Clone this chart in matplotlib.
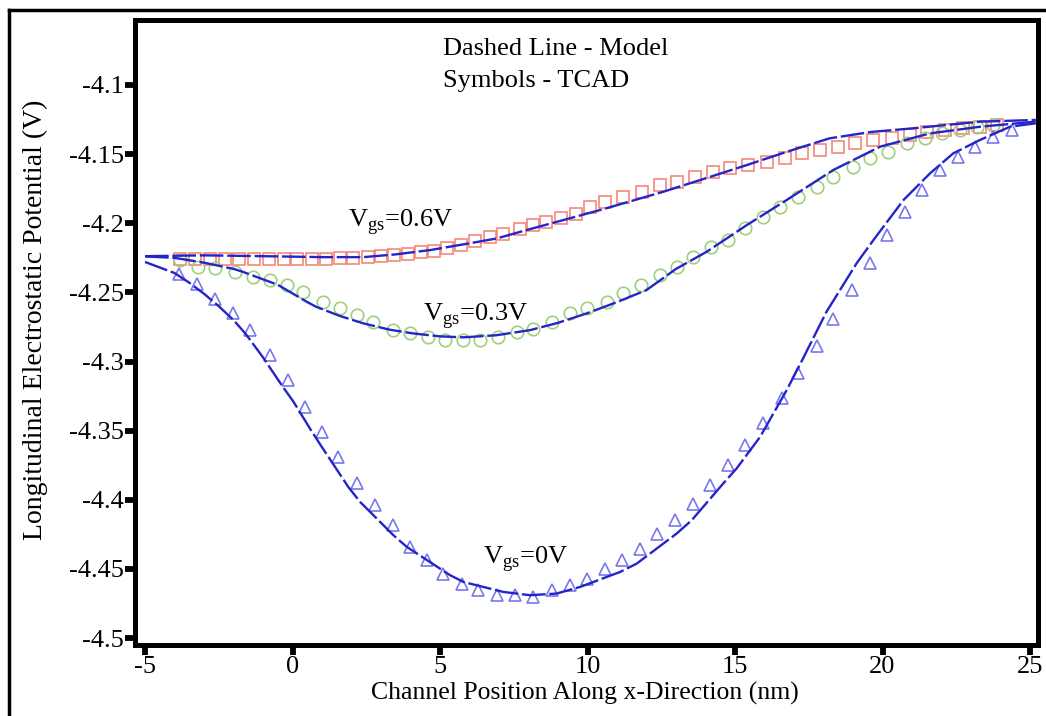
import matplotlib
matplotlib.use("Agg")
import matplotlib.pyplot as plt
from matplotlib.lines import Line2D

plt.rcParams['font.family'] = ['Liberation Serif', 'DejaVu Serif']
plt.rcParams['mathtext.fontset'] = 'custom'
plt.rcParams['mathtext.rm'] = 'Liberation Serif'
plt.rcParams['axes.unicode_minus'] = False

# TCAD symbols
sq_x = [-3.8, -3.3, -2.8, -2.3, -1.8, -1.3, -0.8, -0.3, 0.15, 0.65, 1.15, 1.6, 2.05, 2.55,
        3.0, 3.45, 3.9, 4.35, 4.8, 5.25, 5.7, 6.2, 6.7, 7.15, 7.7, 8.15, 8.6, 9.1, 9.6, 10.1,
        10.6, 11.2, 11.84, 12.46, 13.02, 13.64, 14.26, 14.83, 15.45, 16.07, 16.7, 17.26,
        17.88, 18.5, 19.07, 19.69, 20.31, 20.93, 21.5, 22.12, 22.74, 23.3, 23.87]
sq_y = [-4.2262, -4.2262, -4.2262, -4.2260, -4.2260, -4.2258, -4.2258, -4.2256, -4.2256,
        -4.2255, -4.2255, -4.2252, -4.2250, -4.2245, -4.2238, -4.2230, -4.2220, -4.2210,
        -4.2198, -4.2182, -4.2160, -4.2130, -4.2100, -4.2075, -4.2045, -4.2015, -4.1990,
        -4.1962, -4.1930, -4.1885, -4.1845, -4.1808, -4.1772, -4.1724, -4.1700, -4.1663,
        -4.1627, -4.1603, -4.1579, -4.1555, -4.1530, -4.1494, -4.1470, -4.1446, -4.1422,
        -4.1398, -4.1386, -4.1362, -4.1338, -4.1326, -4.1313, -4.1302, -4.1290]

ci_x = [-3.81, -3.19, -2.63, -1.95, -1.33, -0.76, -0.2, 0.37, 1.04, 1.61, 2.18, 2.74, 3.42,
        3.98, 4.6, 5.17, 5.79, 6.36, 6.98, 7.6, 8.16, 8.79, 9.4, 9.97, 10.65, 11.2, 11.8,
        12.46, 13.02, 13.59, 14.2, 14.77, 15.34, 15.96, 16.53, 17.15, 17.77, 18.33, 19.0,
        19.58, 20.2, 20.82, 21.44, 22.0, 22.63, 23.19, 23.76]
ci_y = [-4.2266, -4.2315, -4.2327, -4.2351, -4.2387, -4.2411, -4.2447, -4.2496, -4.2568,
        -4.2616, -4.2664, -4.2713, -4.2773, -4.2797, -4.2821, -4.2845, -4.2845, -4.2845,
        -4.2821, -4.2785, -4.2765, -4.2713, -4.2652, -4.2610, -4.2568, -4.2507, -4.2447,
        -4.2375, -4.2315, -4.2242, -4.2170, -4.2122, -4.2037, -4.1953, -4.1880, -4.1808,
        -4.1740, -4.1663, -4.1591, -4.1530, -4.1482, -4.1422, -4.1386, -4.1350, -4.1326,
        -4.1302, -4.1290]

tr_x = [-3.85, -3.25, -2.63, -2.03, -1.44, -0.76, -0.14, 0.42, 0.99, 1.55, 2.18, 2.80, 3.42,
        3.98, 4.55, 5.11, 5.74, 6.30, 6.92, 7.54, 8.16, 8.79, 9.41, 9.97, 10.59, 11.16,
        11.78, 12.35, 12.97, 13.59, 14.15, 14.77, 15.34, 15.96, 16.58, 17.15, 17.77, 18.33,
        18.95, 19.58, 20.14, 20.76, 21.33, 21.95, 22.57, 23.14, 23.76, 24.38]
tr_y = [-4.2370, -4.2440, -4.2550, -4.2650, -4.2773, -4.2950, -4.3135, -4.3328, -4.3509,
        -4.3690, -4.3882, -4.4039, -4.4184, -4.4341, -4.4437, -4.4533, -4.4606, -4.4654,
        -4.4690, -4.4690, -4.4703, -4.4654, -4.4618, -4.4570, -4.4497, -4.4437, -4.4353,
        -4.4244, -4.4148, -4.4027, -4.3894, -4.3750, -4.3605, -4.3448, -4.3267, -4.3086,
        -4.2888, -4.2689, -4.2483, -4.2290, -4.2085, -4.1917, -4.1760, -4.1615, -4.1519,
        -4.1446, -4.1374, -4.1326]

# model (dashed lines)
m06_x = [-5, -3, -1, 1, 2.4, 3.5, 4.66, 6.0, 6.92, 8.0, 9.18, 10.5, 12.57, 14.0, 15.4,
         16.8, 18.2, 19.6, 21.05, 23.3, 25.2]
m06_y = [-4.2238, -4.2232, -4.2238, -4.2245, -4.2245, -4.2225, -4.2194, -4.2145, -4.2110,
         -4.2045, -4.1977, -4.1900, -4.1772, -4.1675, -4.1579, -4.1480, -4.1386, -4.1340,
         -4.1313, -4.1265, -4.1253]

m03_x = [-5, -4, -3, -2, -1.7, -0.5, 0.5, 0.8, 1.6, 2.4, 3.3, 4.1, 5.0, 5.8, 6.9, 8.05,
         9.0, 9.97, 11.0, 12.0, 13.0, 14.04, 15.4, 16.75, 18.33, 19.92, 21.61, 23.3, 25.2]
m03_y = [-4.2240, -4.2250, -4.2285, -4.2330, -4.2350, -4.2445, -4.2570, -4.2604, -4.2670,
         -4.2724, -4.2770, -4.2797, -4.2818, -4.2825, -4.2810, -4.2773, -4.2720, -4.2652,
         -4.2570, -4.2483, -4.2330, -4.2206, -4.2013, -4.1832, -4.1615, -4.1446, -4.1350,
         -4.1302, -4.1265]

m0_x = [-5, -4.5, -4, -3.5, -3, -2.5, -2, -1.6, -1.0, -0.37, 0.03, 0.65, 1.0, 1.89, 2.29,
        3.42, 3.87, 5.34, 5.79, 7.14, 8.05, 8.95, 9.75, 11.1, 11.67, 13.02, 13.53, 14.6,
        15.05, 15.85, 16.75, 17.3, 18.1, 19.12, 19.69, 20.71, 21.61, 22.4, 23.3, 24.32, 25.2]
m0_y = [-4.2280, -4.2320, -4.2360, -4.2430, -4.2510, -4.2600, -4.2700, -4.2797, -4.2970,
        -4.3170, -4.3290, -4.3505, -4.3620, -4.3907, -4.4015, -4.4256, -4.4340, -4.4545,
        -4.4594, -4.4666, -4.4690, -4.4678, -4.4630, -4.4522, -4.4461, -4.4244, -4.4148,
        -4.3882, -4.3774, -4.3545, -4.3207, -4.2980, -4.2640, -4.2290, -4.2122, -4.1832,
        -4.1639, -4.1494, -4.1398, -4.1302, -4.1277]

fig = plt.figure(figsize=(10.46, 7.16), dpi=100)
ax = fig.add_axes([135 / 1046, 1 - 645 / 716, (1038 - 135) / 1046, (645 - 20) / 716])

line_c = '#2424c8'
dash_kw = dict(color=line_c, lw=1.7, dashes=(10, 1.6))
ax.plot(m06_x, m06_y, **dash_kw, zorder=3)
ax.plot(m03_x, m03_y, **dash_kw, zorder=3)
ax.plot(m0_x, m0_y, **dash_kw, zorder=3)

ax.plot(sq_x, sq_y, 's', ms=8.5, mfc='none', mec='#f4877a', mew=1.2, zorder=2)
ax.plot(ci_x, ci_y, 'o', ms=9, mfc='none', mec='#9fcf7f', mew=1.2, zorder=2)
ax.plot(tr_x, tr_y, '^', ms=8.5, mfc='none', mec='#7878ee', mew=1.2, zorder=2)

ax.set_xlim(-5.34, 25.27)
ax.set_ylim(-4.505, -4.053)
ax.set_xticks([-5, 0, 5, 10, 15, 20, 25])
ax.set_yticks([-4.1, -4.15, -4.2, -4.25, -4.3, -4.35, -4.4, -4.45, -4.5])
ax.set_yticklabels(['-4.1', '-4.15', '-4.2', '-4.25', '-4.3', '-4.35', '-4.4', '-4.45', '-4.5'])

for s in ax.spines.values():
    s.set_linewidth(3.6)
ax.tick_params(axis='both', which='major', direction='out', length=7, width=4.2,
               labelsize=19, pad=1)

ax.set_xlabel('Channel Position Along x-Direction (nm)', fontsize=18.5)
ax.xaxis.set_label_coords((585 - 135) / 903, -(682 - 645) / 625)
ax.set_ylabel('Longitudinal Electrostatic Potential (V)', fontsize=20)
ax.yaxis.set_label_coords(-(135 - 48) / 903, (645 - 320) / 625)

ax.text(5.1, -4.074, 'Dashed Line - Model', fontsize=19, va='center', ha='left')
ax.text(5.1, -4.097, 'Symbols - TCAD', fontsize=19, va='center', ha='left')
ax.text(3.65, -4.199, r'V$_{\rm gs}$=0.6V', fontsize=19, ha='center', va='center')
ax.text(6.2, -4.267, r'V$_{\rm gs}$=0.3V', fontsize=19, ha='center', va='center')
ax.text(7.9, -4.443, r'V$_{\rm gs}$=0V', fontsize=19, ha='center', va='center')

# outer image frame
fig.add_artist(Line2D([9 / 1046, 9 / 1046], [0, 1 - 10 / 716], transform=fig.transFigure,
                      color='black', lw=2.5))
fig.add_artist(Line2D([9 / 1046, 1], [1 - 10 / 716, 1 - 10 / 716], transform=fig.transFigure,
                      color='black', lw=2.5))

fig.savefig('out.png', dpi=100)
